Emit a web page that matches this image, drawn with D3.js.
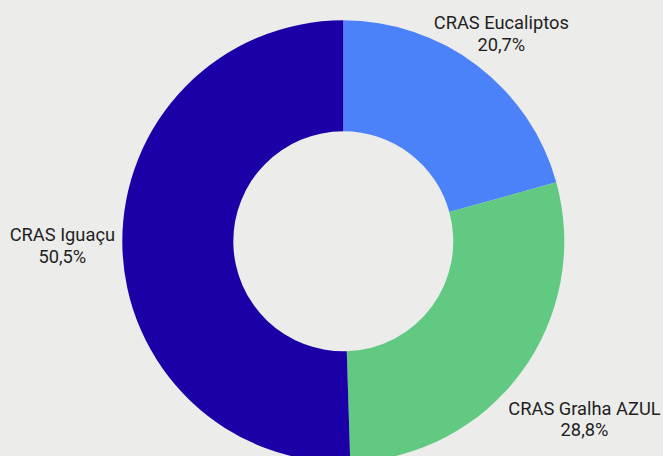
<!DOCTYPE html>
<html><head><meta charset="utf-8">
<script src="https://cdn.jsdelivr.net/npm/d3@7"></script>
<style>html,body{margin:0;padding:0;background:#ececea;}svg{display:block;}</style>
</head><body>
<svg id="chart" width="663" height="456"></svg>
<script>
const categories = ["CRAS Eucaliptos", "CRAS Gralha AZUL", "CRAS Iguaçu"];
const values = [20.7, 28.8, 50.5];
const valueLabels = ["20,7%", "28,8%", "50,5%"];
const colors = ["#4b82fa", "#62c983", "#1a00a6"];

const W = 663, H = 456;
const cx = 343.3, cy = 241.3, R = 221, r = 110;
const fontSize = 18.3, lineH = 21.7, pad = 7, margin = 12;

const svg = d3.select("#chart");
svg.append("rect").attr("width", W).attr("height", H).attr("fill", "#ececea");

const pie = d3.pie().sort(null).value(d => d.v);
const data = pie(categories.map((c, i) => ({c, v: values[i], l: valueLabels[i], col: colors[i]})));
const arc = d3.arc().innerRadius(r).outerRadius(R);

const g = svg.append("g").attr("transform", `translate(${cx},${cy})`);
g.selectAll("path").data(data).join("path")
  .attr("d", arc).attr("fill", d => d.data.col);

const lg = svg.append("g")
  .attr("font-family", "Roboto, 'Noto Sans', sans-serif")
  .attr("font-size", fontSize).attr("fill", "#1f1f1f");

data.forEach(d => {
  const t = lg.append("text").attr("text-anchor", "middle");
  t.append("tspan").attr("x", 0).attr("y", 0).text(d.data.c);
  t.append("tspan").attr("x", 0).attr("y", lineH).text(d.data.l);
  const bb = t.node().getBBox();
  const hw = bb.width / 2, hh = bb.height / 2, oy = bb.y + hh;
  const a = (d.startAngle + d.endAngle) / 2;
  const ux = Math.sin(a), uy = -Math.cos(a);
  let s = R;
  for (; s < 600; s += 0.5) {
    const px = Math.max(0, Math.abs(ux * s) - hw);
    const py = Math.max(0, Math.abs(uy * s) - hh);
    if (Math.hypot(px, py) >= R + pad) break;
  }
  for (; s > R; s -= 0.5) {
    const x = cx + ux * s, y = cy + uy * s;
    if (x - hw >= 2 && x + hw <= W - 2 && y - hh >= margin && y + hh <= H) break;
  }
  const x = cx + ux * s, y = cy + uy * s;
  t.attr("transform", `translate(${x},${y - oy})`);
});
</script>
</body></html>
